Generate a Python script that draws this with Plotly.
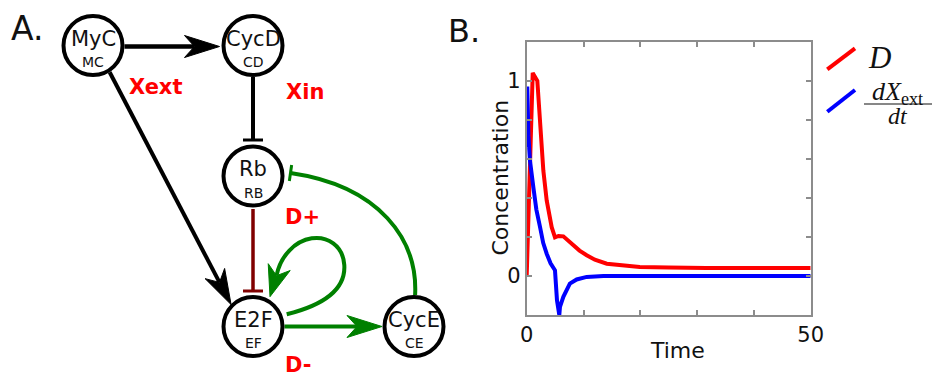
import math
import plotly.graph_objects as go

# ---------------- Panel B data ----------------
time_D = [0, 1.06, 1.87, 2.52, 2.93, 3.52, 4.4, 4.98, 5.6, 6.45, 7.3, 8.2, 9.3, 10.56, 12.0, 14.1, 17.0, 19.9, 25.0, 31.6, 50]
conc_D = [0, 1.04, 1.0, 0.69, 0.54, 0.387, 0.25, 0.198, 0.205, 0.203, 0.18, 0.157, 0.13, 0.106, 0.083, 0.063, 0.052, 0.046, 0.043, 0.041, 0.041]

time_dX = [0, 0.1, 0.3, 0.58, 1.17, 1.7, 2.35, 2.9, 3.52, 4.2, 4.98, 5.33, 5.74, 5.86, 6.45, 7.6, 8.8, 10.56, 13.5, 50]
conc_dX = [0.66, 0.97, 0.72, 0.59, 0.455, 0.34, 0.25, 0.17, 0.114, 0.065, 0.029, -0.124, -0.2, -0.158, -0.107, -0.039, -0.018, -0.005, 0, 0]

x_labelled_ticks = [0, 50]
x_tick_step = 10
y_labelled_ticks = [0, 1]
y_tick_step = 0.2

# ---------------- Panel A network ----------------
node_names = ["MyC", "CycD", "Rb", "E2F", "CycE"]
node_subs = ["MC", "CD", "RB", "EF", "CE"]
edge_list = [("MyC", "CycD", "act"), ("CycD", "Rb", "inh"), ("MyC", "E2F", "act"),
             ("Rb", "E2F", "inh"), ("E2F", "CycE", "act"), ("E2F", "E2F", "act"),
             ("CycE", "Rb", "inh")]
region_labels = ["Xext", "Xin", "D+", "D-"]

# layout geometry (pixel units of the diagram axis)
node_pos = {"MyC": (93, 45.5), "CycD": (253, 45.5), "Rb": (253, 176),
            "E2F": (253, 326.5), "CycE": (414, 326.5)}
R = 29.5
label_pos = {"Xext": (155, 87), "Xin": (305, 92), "D+": (302, 217), "D-": (298, 365)}

BLACK = "#000000"
GREEN = "#008000"
DARKRED = "#800000"
FONT = "DejaVu Sans"

fig = go.Figure()
fig.add_trace(go.Scatter(x=time_D, y=conc_D, mode="lines", line=dict(color="#ff0000", width=4),
                         showlegend=False, xaxis="x", yaxis="y"))
fig.add_trace(go.Scatter(x=time_dX, y=conc_dX, mode="lines", line=dict(color="#0000ff", width=4),
                         showlegend=False, xaxis="x", yaxis="y"))
# invisible trace to anchor the diagram axes
fig.add_trace(go.Scatter(x=[0], y=[0], mode="markers", marker=dict(opacity=0),
                         showlegend=False, hoverinfo="skip", xaxis="x2", yaxis="y2"))

shapes = []
annos = []


def unit(dx, dy):
    n = math.hypot(dx, dy)
    return dx / n, dy / n


def arrowhead(tip, d, color, length=35, half=11, notch=10):
    dx, dy = d
    nx, ny = -dy, dx
    bx, by = tip[0] - dx * length, tip[1] - dy * length
    p1 = (bx + nx * half, by + ny * half)
    p2 = (bx - nx * half, by - ny * half)
    q = (tip[0] - dx * (length - notch), tip[1] - dy * (length - notch))
    path = "M {:.2f},{:.2f} L {:.2f},{:.2f} L {:.2f},{:.2f} L {:.2f},{:.2f} Z".format(
        tip[0], tip[1], p1[0], p1[1], q[0], q[1], p2[0], p2[1])
    shapes.append(dict(type="path", path=path, xref="x2", yref="y2", fillcolor=color,
                       line=dict(color=color, width=1)))
    return q


def tbar(end, d, color, half=10, width=3):
    dx, dy = d
    nx, ny = -dy, dx
    shapes.append(dict(type="line", xref="x2", yref="y2",
                       x0=end[0] + nx * half, y0=end[1] + ny * half,
                       x1=end[0] - nx * half, y1=end[1] - ny * half,
                       line=dict(color=color, width=width)))


def seg(p, q, color, width=4):
    shapes.append(dict(type="line", xref="x2", yref="y2", x0=p[0], y0=p[1], x1=q[0], y1=q[1],
                       line=dict(color=color, width=width)))


def port(name, ang, r=31.5):
    cx, cy = node_pos[name]
    a = math.radians(ang)
    return cx + r * math.cos(a), cy + r * math.sin(a)


# edges
for src, dst, kind in edge_list:
    if (src, dst) == ("MyC", "CycD"):
        p, t = port(src, 0), (219.5, node_pos[dst][1] + 1)
        p = (p[0], t[1])
        d = unit(t[0] - p[0], t[1] - p[1])
        q = arrowhead(t, d, BLACK)
        seg(p, q, BLACK, 4.5)
    elif (src, dst) == ("CycD", "Rb"):
        p, t = port(src, 90), (253, 140)
        seg(p, t, BLACK, 4)
        tbar(t, (0, 1), BLACK, 10, 3)
    elif (src, dst) == ("MyC", "E2F"):
        p, t = port(src, 58), port(dst, 225, 31)
        d = unit(t[0] - p[0], t[1] - p[1])
        q = arrowhead(t, d, BLACK)
        seg(p, q, BLACK, 4)
    elif (src, dst) == ("Rb", "E2F"):
        p, t = port(src, 90, 33), (253, 291)
        seg(p, t, DARKRED, 3.5)
        tbar(t, (0, 1), DARKRED, 10, 3)
    elif (src, dst) == ("E2F", "CycE"):
        p, t = port(src, 0), (382, node_pos[dst][1])
        d = unit(t[0] - p[0], t[1] - p[1])
        q = arrowhead(t, d, GREEN)
        seg(p, q, GREEN, 4)
    elif src == dst:
        tip = (270, 296.7)
        d = unit(-8.3, 26.7)
        q = arrowhead(tip, d, GREEN, length=31, half=11.5, notch=9)
        path = ("M 286.7,314.3 C 320,306 346,292 344.3,265 C 343,245 327,236 311.7,238.3 "
                "C 295,241 {:.1f},{:.1f} {:.1f},{:.1f}").format(q[0] + 4, q[1] - 20, q[0], q[1])
        shapes.append(dict(type="path", path=path, xref="x2", yref="y2",
                           line=dict(color=GREEN, width=4)))
    elif (src, dst) == ("CycE", "Rb"):
        p = port(src, -88)
        end = (290.5, 173)
        path = "M {:.1f},{:.1f} C 418,240 380,186 {:.1f},{:.1f}".format(p[0], p[1], end[0], end[1])
        shapes.append(dict(type="path", path=path, xref="x2", yref="y2",
                           line=dict(color=GREEN, width=4)))
        d = unit(end[0] - 380, end[1] - 186)
        tbar(end, d, GREEN, 8, 3)

# nodes
for name, sub in zip(node_names, node_subs):
    cx, cy = node_pos[name]
    shapes.append(dict(type="circle", xref="x2", yref="y2", x0=cx - R, x1=cx + R, y0=cy - R, y1=cy + R,
                       line=dict(color=BLACK, width=4), fillcolor="white"))
    annos.append(dict(x=cx, y=cy - 7, xref="x2", yref="y2", text=name, showarrow=False,
                      font=dict(family=FONT, size=21, color="#111111"), xanchor="center", yanchor="middle"))
    annos.append(dict(x=cx, y=cy + 16.5, xref="x2", yref="y2", text=sub, showarrow=False,
                      font=dict(family=FONT, size=14, color="#111111"), xanchor="center", yanchor="middle"))

for lab in region_labels:
    x, y = label_pos[lab]
    annos.append(dict(x=x, y=y, xref="x2", yref="y2", text="<b>" + lab + "</b>", showarrow=False,
                      font=dict(family=FONT, size=21, color="#ff0000"), xanchor="center", yanchor="middle"))

# panel letters
annos.append(dict(x=26.5, y=28, xref="x2", yref="y2", text="A.", showarrow=False,
                  font=dict(family=FONT, size=33, color="#111111"), xanchor="center", yanchor="middle"))
annos.append(dict(x=463.5, y=31, xref="x2", yref="y2", text="B.", showarrow=False,
                  font=dict(family=FONT, size=32, color="#111111"), xanchor="center", yanchor="middle"))

# axis titles of panel B
annos.append(dict(x=677, y=350.5, xref="x2", yref="y2", text="Time", showarrow=False,
                  font=dict(family=FONT, size=22, color="#111111"), xanchor="center", yanchor="middle"))
annos.append(dict(x=500, y=177.5, xref="x2", yref="y2", text="Concentration", showarrow=False,
                  textangle=-90, font=dict(family=FONT, size=22, color="#111111"),
                  xanchor="center", yanchor="middle"))

# legend (drawn manually with slanted samples)
seg((827.3, 69.3), (855, 48.3), "#ff0000", 4)
seg((827.3, 111.7), (855, 90), "#0000ff", 4)
annos.append(dict(x=879, y=57, xref="x2", yref="y2", text="<i>D</i>", showarrow=False,
                  font=dict(family="Liberation Serif", size=31, color="#111111"),
                  xanchor="center", yanchor="middle"))
annos.append(dict(x=897, y=92.5, xref="x2", yref="y2", text="<i>dX</i><sub>ext</sub>", showarrow=False,
                  font=dict(family="Liberation Serif", size=26, color="#111111"),
                  xanchor="center", yanchor="middle"))
shapes.append(dict(type="line", xref="x2", yref="y2", x0=864, x1=932, y0=104, y1=104,
                   line=dict(color="#111111", width=1.2)))
annos.append(dict(x=897.5, y=116, xref="x2", yref="y2", text="<i>dt</i>", showarrow=False,
                  font=dict(family="Liberation Serif", size=24, color="#111111"),
                  xanchor="center", yanchor="middle"))

AX = "#8c8c8c"
tick_common = dict(showline=True, linecolor=AX, linewidth=2, mirror="ticks",
                   ticks="inside", ticklen=5, tickwidth=2, tickcolor=AX,
                   tickfont=dict(size=21, family=FONT, color="#111111"),
                   showgrid=False, zeroline=False, automargin=False)
fig.update_layout(
    width=933, height=375,
    margin=dict(l=0, r=0, t=0, b=0, autoexpand=False),
    paper_bgcolor="white", plot_bgcolor="rgba(0,0,0,0)",
    showlegend=False,
    font=dict(family=FONT, color="#111111"),
    shapes=shapes, annotations=annos,
    xaxis=dict(domain=[526.7 / 933, 810.7 / 933], range=[0, 50], anchor="y",
               tickmode="array", tickvals=x_labelled_ticks,
               minor=dict(tick0=0, dtick=x_tick_step, ticks="inside", ticklen=5, tickwidth=2,
                          tickcolor=AX, showgrid=False),
               **tick_common),
    yaxis=dict(domain=[1 - 315 / 375, 1 - 41.7 / 375], range=[-0.2, 1.2], anchor="x",
               tickmode="array", tickvals=y_labelled_ticks,
               minor=dict(tick0=0, dtick=y_tick_step, ticks="inside", ticklen=5, tickwidth=2,
                          tickcolor=AX, showgrid=False),
               **tick_common),
    xaxis2=dict(domain=[0, 1], range=[0, 933], anchor="y2", visible=False, fixedrange=True, automargin=False),
    yaxis2=dict(domain=[0, 1], range=[375, 0], anchor="x2", visible=False, fixedrange=True, automargin=False),
)

fig.write_html("out.html", config={"displayModeBar": False},
               post_script="document.body.style.margin='0px';document.body.style.overflow='hidden';")
